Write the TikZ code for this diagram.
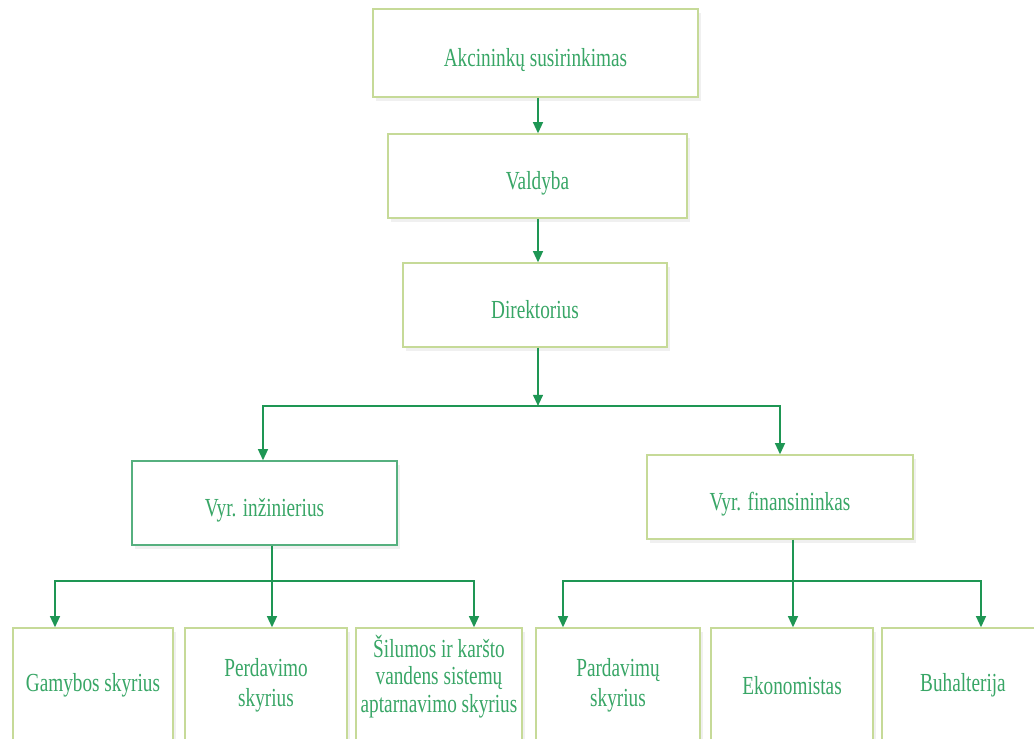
\documentclass[tikz,border=0pt]{standalone}
\usepackage{fontspec}
\setmainfont{Liberation Serif}[FakeStretch=0.74]
\usetikzlibrary{arrows.meta,shadows}
\definecolor{boxline}{RGB}{198,218,152}
\definecolor{boxtext}{RGB}{56,166,102}
\definecolor{linkline}{RGB}{30,150,84}
\begin{document}
\begin{tikzpicture}[x=0.025cm,y=-0.025cm,
  box/.style={draw=boxline, line width=0.9pt, fill=white, text=boxtext, align=center,
    font=\fontsize{18.5}{21}\selectfont,
    drop shadow={opacity=0.12, shadow xshift=2pt, shadow yshift=-2.5pt}},
  topbox/.style={box, minimum height=2.1cm, text height=22.5pt, text depth=4pt},
  lowbox/.style={box, minimum width=4.05cm, minimum height=2.875cm},
  link/.style={draw=linkline, line width=1.4pt},
  arr/.style={link, -{Triangle[width=7pt,length=8pt]}}]
\useasboundingbox (0,0) rectangle (1034,738);
\clip (0,0) rectangle (1034,738);
\node[topbox, minimum width=8.125cm, minimum height=2.2cm] (akc) at (535.5,53) {Akcininkų susirinkimas};
\node[topbox, minimum width=7.475cm] (vald) at (537.5,176) {Valdyba};
\node[topbox, minimum width=6.6cm] (direk) at (535,305) {Direktorius};
\node[topbox, minimum width=6.625cm, draw=linkline!75] (vinz) at (264.5,503) {Vyr. inžinierius};
\node[topbox, minimum width=6.65cm] (vfin) at (780,497) {Vyr. finansininkas};
\node[lowbox, minimum width=4cm] (gam) at (93,685.5) {Gamybos skyrius};
\node[lowbox] (perd) at (266,685.5) {Perdavimo\\skyrius};
\node[lowbox] (sil) at (439,685.5) {Šilumos ir karšto\\[-1.5pt]vandens sistemų\\[-1.5pt]aptarnavimo skyrius\\[-4pt]};
\node[lowbox, minimum width=4.1cm] (pard) at (618,685.5) {Pardavimų\\skyrius};
\node[lowbox] (ekon) at (792,685.5) {Ekonomistas};
\node[lowbox] (buh) at (963,685.5) {Buhalterija};
\coordinate (upl) at (263,406);
\coordinate (upm) at (538,406);
\coordinate (upr) at (780,406);
\coordinate (lol) at (55,581);
\coordinate (lom) at (272,581);
\coordinate (lor) at (474,581);
\coordinate (rol) at (563,581);
\coordinate (rom) at (793,581);
\coordinate (ror) at (981,581);
\draw[arr] (akc.south -| upm) -- (vald.north -| upm);
\draw[arr] (vald.south -| upm) -- (direk.north -| upm);
\draw[arr] (direk.south -| upm) -- (upm);
\draw[arr] (upm) -| (vinz.north -| upl);
\draw[arr] (upm) -| (vfin.north -| upr);
\draw[arr] (vinz.south -| lom) -- (perd.north -| lom);
\draw[arr] (lom) -| (gam.north -| lol);
\draw[arr] (lom) -| (sil.north -| lor);
\draw[arr] (vfin.south -| rom) -- (ekon.north -| rom);
\draw[arr] (rom) -| (pard.north -| rol);
\draw[arr] (rom) -| (buh.north -| ror);
\end{tikzpicture}
\end{document}
